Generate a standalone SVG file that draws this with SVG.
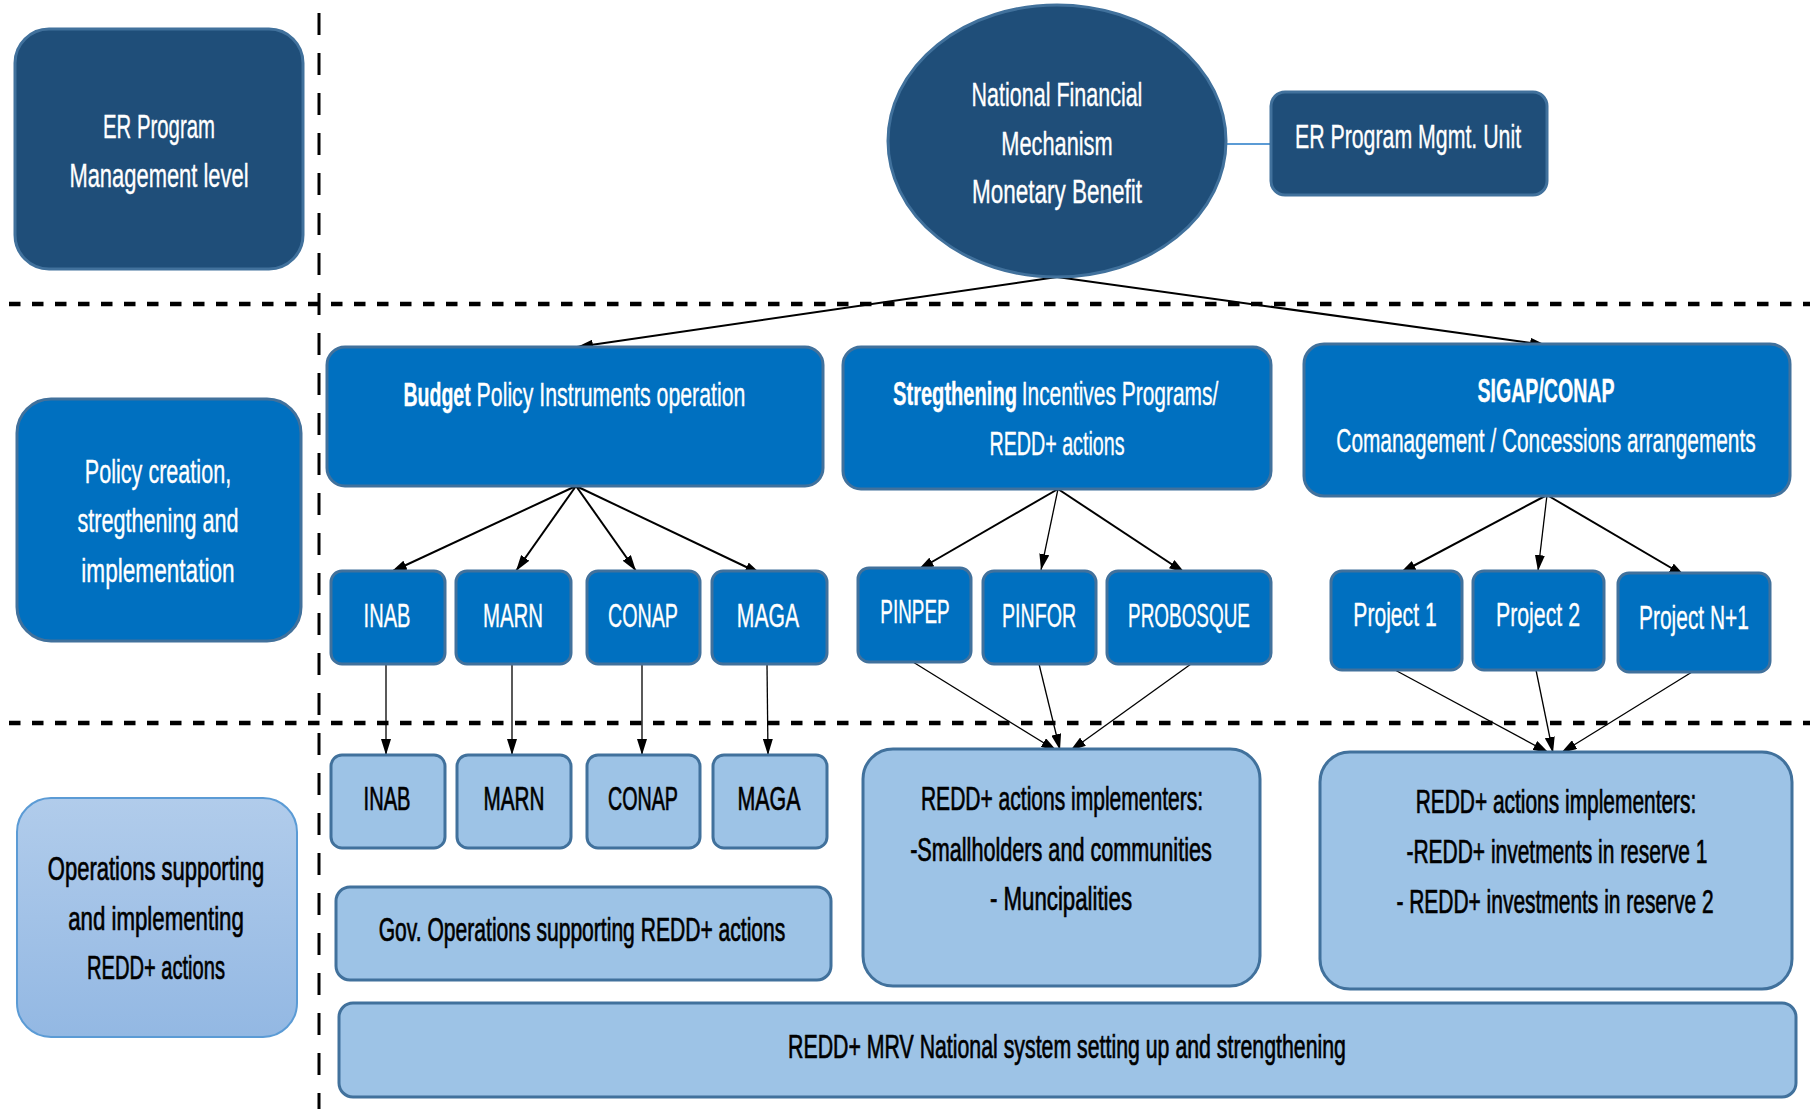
<svg xmlns="http://www.w3.org/2000/svg" width="1810" height="1109" viewBox="0 0 1810 1109">
<style>
text{font-family:"Liberation Sans Narrow","Liberation Sans",Arial,sans-serif;font-size:33px;text-anchor:middle;transform-box:fill-box;transform-origin:center;transform:scaleX(0.7)}
.w{fill:#ffffff;stroke:#ffffff;stroke-width:0.35}
.k{fill:#000000;stroke:#000000;stroke-width:0.7}
.b{font-weight:bold}
.navy{fill:#1F4E79;stroke:#41719C;stroke-width:3}
.mid{fill:#0070C0;stroke:#41719C;stroke-width:3}
.lt{fill:#9DC3E6;stroke:#41719C;stroke-width:3}
.ltg{fill:url(#g1);stroke:#5B9BD5;stroke-width:2}
.sep{stroke:#000;fill:none}
.c2{stroke:#000;stroke-width:2;fill:none}
.c1{stroke:#000;stroke-width:1.3;fill:none}
</style>
<defs>
<linearGradient id="g1" x1="0" y1="0" x2="0" y2="1">
<stop offset="0" stop-color="#B1CCEB"/>
<stop offset="1" stop-color="#93B8E3"/>
</linearGradient>
<marker id="ah" viewBox="0 0 16 10" refX="16" refY="5" markerWidth="16" markerHeight="10" markerUnits="userSpaceOnUse" orient="auto">
<path d="M0,0 L16,5 L0,10 z" fill="#000"/>
</marker>
</defs>

<g id="separators">
<line class="sep" x1="319" y1="13" x2="319" y2="1109" stroke-width="3" stroke-dasharray="22 18"/>
<line class="sep" x1="9" y1="304" x2="1810" y2="304" stroke-width="4.5" stroke-dasharray="11.5 11.5"/>
<line class="sep" x1="9" y1="723" x2="1810" y2="723" stroke-width="4.5" stroke-dasharray="11.5 11.5"/>
</g>

<g id="connectors">
<line x1="1226" y1="144" x2="1271" y2="144" stroke="#5B9BD5" stroke-width="2"/>
<line class="c2" x1="1057" y1="277" x2="577" y2="347" marker-end="url(#ah)"/>
<line class="c2" x1="1057" y1="277" x2="1546" y2="345" marker-end="url(#ah)"/>
<line class="c2" x1="576" y1="486" x2="391" y2="572" marker-end="url(#ah)"/>
<line class="c2" x1="576" y1="486" x2="516" y2="571" marker-end="url(#ah)"/>
<line class="c2" x1="576" y1="486" x2="636" y2="571" marker-end="url(#ah)"/>
<line class="c2" x1="576" y1="486" x2="761" y2="574" marker-end="url(#ah)"/>
<line class="c2" x1="1058" y1="489" x2="918" y2="570" marker-end="url(#ah)"/>
<line class="c1" x1="1058" y1="489" x2="1041" y2="570" marker-end="url(#ah)"/>
<line class="c2" x1="1058" y1="489" x2="1185" y2="573" marker-end="url(#ah)"/>
<line class="c2" x1="1547" y1="495" x2="1400" y2="573" marker-end="url(#ah)"/>
<line class="c1" x1="1547" y1="495" x2="1538" y2="571" marker-end="url(#ah)"/>
<line class="c2" x1="1547" y1="495" x2="1685" y2="576" marker-end="url(#ah)"/>
<line class="c1" x1="386" y1="664" x2="386" y2="755" marker-end="url(#ah)"/>
<line class="c1" x1="512" y1="664" x2="512" y2="755" marker-end="url(#ah)"/>
<line class="c1" x1="642" y1="664" x2="642" y2="755" marker-end="url(#ah)"/>
<line class="c1" x1="767" y1="664" x2="768" y2="755" marker-end="url(#ah)"/>
<line class="c1" x1="913" y1="662" x2="1057" y2="751" marker-end="url(#ah)"/>
<line class="c1" x1="1039" y1="664" x2="1060" y2="750" marker-end="url(#ah)"/>
<line class="c1" x1="1191" y1="664" x2="1070" y2="751" marker-end="url(#ah)"/>
<line class="c1" x1="1395" y1="670" x2="1549" y2="753" marker-end="url(#ah)"/>
<line class="c1" x1="1536" y1="670" x2="1553" y2="753" marker-end="url(#ah)"/>
<line class="c1" x1="1692" y1="672" x2="1561" y2="753" marker-end="url(#ah)"/>
</g>

<g id="lvl-mgmt">
<rect class="navy" x="15" y="29" width="288" height="240" rx="34" ry="34"/>
<text class="w" x="159" y="138" textLength="160" lengthAdjust="spacingAndGlyphs">ER Program</text>
<text class="w" x="159" y="187" textLength="256" lengthAdjust="spacingAndGlyphs">Management level</text>
</g>
<g id="lvl-policy">
<rect class="mid" x="17" y="399" width="284" height="242" rx="34" ry="34"/>
<text class="w" x="158" y="483" textLength="209" lengthAdjust="spacingAndGlyphs">Policy creation,</text>
<text class="w" x="158" y="532" textLength="230" lengthAdjust="spacingAndGlyphs">stregthening and</text>
<text class="w" x="158" y="582" textLength="219" lengthAdjust="spacingAndGlyphs">implementation</text>
</g>
<g id="lvl-ops">
<rect class="ltg" x="17" y="798" width="280" height="239" rx="34" ry="34"/>
<text class="k" x="156" y="880" textLength="309" lengthAdjust="spacingAndGlyphs">Operations supporting</text>
<text class="k" x="156" y="930" textLength="251" lengthAdjust="spacingAndGlyphs">and implementing</text>
<text class="k" x="156" y="979" textLength="197" lengthAdjust="spacingAndGlyphs">REDD+ actions</text>
</g>

<g id="nfm">
<ellipse class="navy" cx="1057" cy="141" rx="169" ry="136"/>
<text class="w" x="1057" y="106" textLength="244" lengthAdjust="spacingAndGlyphs">National Financial</text>
<text class="w" x="1057" y="155" textLength="159" lengthAdjust="spacingAndGlyphs">Mechanism</text>
<text class="w" x="1057" y="203" textLength="243" lengthAdjust="spacingAndGlyphs">Monetary Benefit</text>
</g>
<g id="pmu">
<rect class="navy" x="1271" y="92" width="276" height="103" rx="14" ry="14"/>
<text class="w" x="1408" y="148" textLength="323" lengthAdjust="spacingAndGlyphs">ER Program Mgmt. Unit</text>
</g>

<g id="budget">
<rect class="mid" x="327" y="347" width="496" height="139" rx="18" ry="18"/>
<text class="w b" x="437" y="406" textLength="96" lengthAdjust="spacingAndGlyphs">Budget</text>
<text class="w" x="611" y="406" textLength="384" lengthAdjust="spacingAndGlyphs">Policy Instruments operation</text>
</g>
<g id="incentives">
<rect class="mid" x="843" y="347" width="428" height="142" rx="18" ry="18"/>
<text class="w b" x="955" y="405" textLength="177" lengthAdjust="spacingAndGlyphs">Stregthening</text>
<text class="w" x="1120" y="405" textLength="281" lengthAdjust="spacingAndGlyphs">Incentives Programs/</text>
<text class="w" x="1057" y="455" textLength="193" lengthAdjust="spacingAndGlyphs">REDD+ actions</text>
</g>
<g id="sigap">
<rect class="mid" x="1304" y="344" width="486" height="152" rx="20" ry="20"/>
<text class="w b" x="1546" y="402" textLength="196" lengthAdjust="spacingAndGlyphs">SIGAP/CONAP</text>
<text class="w" x="1546" y="452" textLength="599" lengthAdjust="spacingAndGlyphs">Comanagement / Concessions arrangements</text>
</g>

<g id="inab1"><rect class="mid" x="331" y="571" width="114" height="93" rx="11" ry="11"/><text class="w" x="387" y="627" textLength="67" lengthAdjust="spacingAndGlyphs">INAB</text></g>
<g id="marn1"><rect class="mid" x="456" y="571" width="115" height="93" rx="11" ry="11"/><text class="w" x="513" y="627" textLength="86" lengthAdjust="spacingAndGlyphs">MARN</text></g>
<g id="conap1"><rect class="mid" x="587" y="571" width="113" height="93" rx="11" ry="11"/><text class="w" x="643" y="627" textLength="100" lengthAdjust="spacingAndGlyphs">CONAP</text></g>
<g id="maga1"><rect class="mid" x="712" y="571" width="115" height="93" rx="11" ry="11"/><text class="w" x="768" y="627" textLength="89" lengthAdjust="spacingAndGlyphs">MAGA</text></g>

<g id="pinpep"><rect class="mid" x="858" y="568" width="113" height="94" rx="11" ry="11"/><text class="w" x="915" y="623" textLength="99" lengthAdjust="spacingAndGlyphs">PINPEP</text></g>
<g id="pinfor"><rect class="mid" x="983" y="571" width="113" height="93" rx="11" ry="11"/><text class="w" x="1039" y="627" textLength="106" lengthAdjust="spacingAndGlyphs">PINFOR</text></g>
<g id="probosque"><rect class="mid" x="1107" y="571" width="164" height="93" rx="11" ry="11"/><text class="w" x="1189" y="627" textLength="174" lengthAdjust="spacingAndGlyphs">PROBOSQUE</text></g>

<g id="project1"><rect class="mid" x="1331" y="571" width="131" height="99" rx="11" ry="11"/><text class="w" x="1395" y="626" textLength="119" lengthAdjust="spacingAndGlyphs">Project 1</text></g>
<g id="project2"><rect class="mid" x="1473" y="571" width="131" height="99" rx="11" ry="11"/><text class="w" x="1538" y="626" textLength="120" lengthAdjust="spacingAndGlyphs">Project 2</text></g>
<g id="projectn1"><rect class="mid" x="1618" y="573" width="152" height="99" rx="11" ry="11"/><text class="w" x="1694" y="629" textLength="157" lengthAdjust="spacingAndGlyphs">Project N+1</text></g>

<g id="inab2"><rect class="lt" x="331" y="755" width="114" height="93" rx="11" ry="11"/><text class="k" x="387" y="810" textLength="67" lengthAdjust="spacingAndGlyphs">INAB</text></g>
<g id="marn2"><rect class="lt" x="457" y="755" width="114" height="93" rx="11" ry="11"/><text class="k" x="514" y="810" textLength="87" lengthAdjust="spacingAndGlyphs">MARN</text></g>
<g id="conap2"><rect class="lt" x="587" y="755" width="113" height="93" rx="11" ry="11"/><text class="k" x="643" y="810" textLength="100" lengthAdjust="spacingAndGlyphs">CONAP</text></g>
<g id="maga2"><rect class="lt" x="713" y="755" width="114" height="93" rx="11" ry="11"/><text class="k" x="769" y="810" textLength="90" lengthAdjust="spacingAndGlyphs">MAGA</text></g>

<g id="govops">
<rect class="lt" x="336" y="887" width="495" height="93" rx="14" ry="14"/>
<text class="k" x="582" y="941" textLength="581" lengthAdjust="spacingAndGlyphs">Gov. Operations supporting REDD+ actions</text>
</g>
<g id="impl1">
<rect class="lt" x="863" y="749" width="397" height="237" rx="30" ry="30"/>
<text class="k" x="1062" y="810" textLength="403" lengthAdjust="spacingAndGlyphs">REDD+ actions implementers:</text>
<text class="k" x="1061" y="861" textLength="431" lengthAdjust="spacingAndGlyphs">-Smallholders and communities</text>
<text class="k" x="1061" y="910" textLength="203" lengthAdjust="spacingAndGlyphs">- Muncipalities</text>
</g>
<g id="impl2">
<rect class="lt" x="1320" y="752" width="472" height="237" rx="30" ry="30"/>
<text class="k" x="1556" y="813" textLength="401" lengthAdjust="spacingAndGlyphs">REDD+ actions implementers:</text>
<text class="k" x="1557" y="863" textLength="430" lengthAdjust="spacingAndGlyphs">-REDD+ invetments in reserve 1</text>
<text class="k" x="1555" y="913" textLength="453" lengthAdjust="spacingAndGlyphs">- REDD+ investments in reserve 2</text>
</g>
<g id="mrv">
<rect class="lt" x="339" y="1003" width="1457" height="94" rx="14" ry="14"/>
<text class="k" x="1067" y="1058" textLength="797" lengthAdjust="spacingAndGlyphs">REDD+ MRV National system setting up and strengthening</text>
</g>
</svg>
